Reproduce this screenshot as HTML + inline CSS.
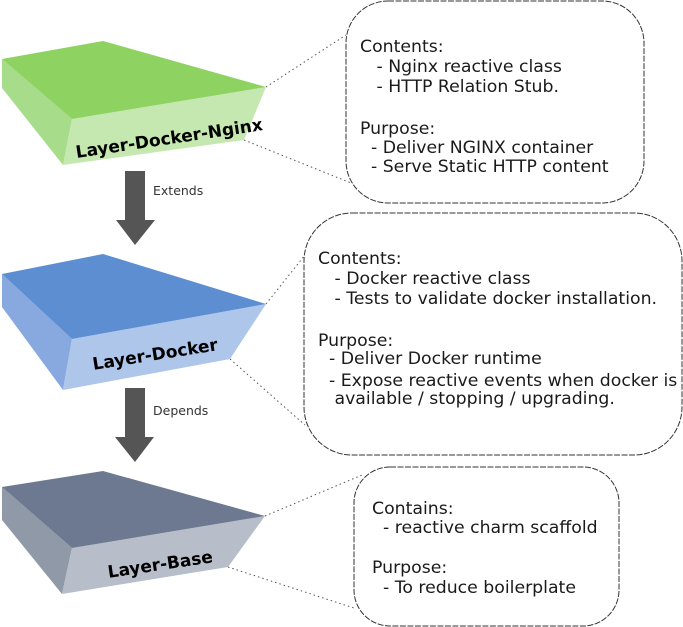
<!DOCTYPE html>
<html><head><style>
body{margin:0;background:#fff;}
svg{display:block;font-family:"DejaVu Sans","Liberation Sans",sans-serif;}
.t{font-size:17.3px;fill:#1a1a1a;}
.l{font-size:17px;font-weight:bold;fill:#000;}
</style></head><body>
<svg width="683" height="627" viewBox="0 0 683 627">
<g stroke="#555" stroke-width="1" stroke-dasharray="1.5 3" fill="none">
<line x1="266" y1="87" x2="346" y2="35"/><line x1="244" y1="140" x2="351" y2="183"/>
<line x1="266" y1="304" x2="305" y2="255"/><line x1="230" y1="359" x2="305" y2="425"/>
<line x1="265" y1="516" x2="362" y2="475"/><line x1="228" y1="567" x2="354" y2="608"/>
</g>
<g fill="#fff" stroke="#333" stroke-width="1" stroke-dasharray="6 1.5">
<rect x="346" y="1" width="298" height="202" rx="42"/>
<rect x="304" y="213" width="378" height="242" rx="48"/>
<rect x="354" y="467" width="265" height="159" rx="36"/>
</g>
<polygon points="2,59 2,88 63,165 72,119" fill="#a6dc8a"/>
<polygon points="72,119 266,87 244,140 63,165" fill="#c4e8b0"/>
<polygon points="2,59 103,41 266,87 72,119" fill="#8ed262"/>
<polygon points="2,274 2,307 63,390 72,339" fill="#87a9df"/>
<polygon points="72,339 266,304 230,359 63,390" fill="#aec6ea"/>
<polygon points="2,274 103,254 266,304 72,339" fill="#5e8ed2"/>
<polygon points="2,487 2,520 62,594 72,548" fill="#9099a8"/>
<polygon points="72,548 265,516 228,567 62,594" fill="#b7bec9"/>
<polygon points="2,487 103,471 265,516 72,548" fill="#6d7990"/>
<text class="l" transform="translate(170,144) rotate(-8.5)" text-anchor="middle">Layer-Docker-Nginx</text>
<text class="l" transform="translate(156,360) rotate(-9)" text-anchor="middle">Layer-Docker</text>
<text class="l" transform="translate(161,570) rotate(-8.5)" text-anchor="middle">Layer-Base</text>
<polygon points="125,171 145,171 145,220 155,220 135,245 116,220 125,220" fill="#555"/>
<polygon points="125,388 145,388 145,437 154,437 135,462 115,437 125,437" fill="#555"/>
<text x="153" y="195" font-size="12.5" fill="#333">Extends</text>
<text x="153" y="415" font-size="12.5" fill="#333">Depends</text>
<g class="t">
<text x="360" y="52">Contents:</text>
<text x="360" y="72" xml:space="preserve">   - Nginx reactive class</text>
<text x="360" y="92" xml:space="preserve">   - HTTP Relation Stub.</text>
<text x="360" y="134">Purpose:</text>
<text x="360" y="153" xml:space="preserve">  - Deliver NGINX container</text>
<text x="360" y="172" xml:space="preserve">  - Serve Static HTTP content</text>
<text x="318" y="264">Contents:</text>
<text x="318" y="284" xml:space="preserve">   - Docker reactive class</text>
<text x="318" y="304" xml:space="preserve">   - Tests to validate docker installation.</text>
<text x="318" y="346">Purpose:</text>
<text x="318" y="364" xml:space="preserve">  - Deliver Docker runtime</text>
<text x="318" y="386" xml:space="preserve">  - Expose reactive events when docker is</text>
<text x="318" y="404" xml:space="preserve">   available / stopping / upgrading.</text>
<text x="372" y="514">Contains:</text>
<text x="372" y="533" xml:space="preserve">  - reactive charm scaffold</text>
<text x="372" y="573">Purpose:</text>
<text x="372" y="593" xml:space="preserve">  - To reduce boilerplate</text>
</g>
</svg>
</body></html>
